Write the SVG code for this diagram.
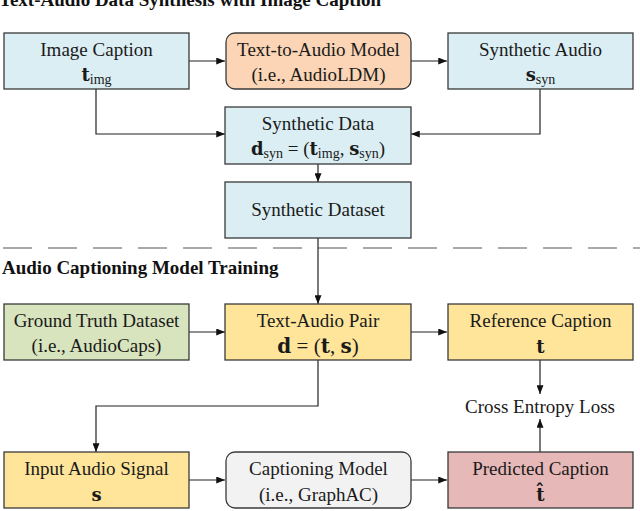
<svg xmlns="http://www.w3.org/2000/svg" width="640" height="511" viewBox="0 0 640 511">
<defs>
<style>
.box{stroke:#3a3a3a;stroke-width:1.3}
.blue{fill:#dbeef4}
.orange{fill:#fbd5b5}
.green{fill:#d7e4bd}
.yellow{fill:#fee59a}
.gray{fill:#f2f2f2}
.pink{fill:#e6b8b7}
.t{font-family:"Liberation Serif","Times New Roman",serif;font-size:19px;fill:#1a1a1a;text-anchor:middle}
.m{font-family:"DejaVu Serif","Liberation Serif",serif;font-weight:bold;font-size:18px}
.sub{font-family:"Liberation Serif",serif;font-size:14px;font-weight:normal}
.h{font-family:"Liberation Serif","Times New Roman",serif;font-size:19px;font-weight:bold;fill:#111}
.c{fill:none;stroke:#222;stroke-width:1.2}
</style>
<marker id="a" viewBox="0 0 10 8" refX="10" refY="4" markerWidth="9" markerHeight="7" markerUnits="userSpaceOnUse" orient="auto">
<path d="M0,0 L10,4 L0,8 z" fill="#111"/>
</marker>
</defs>
<rect width="640" height="511" fill="#ffffff"/>

<text class="h" x="-1" y="6">Text-Audio Data Synthesis with Image Caption</text>
<line x1="3" y1="248" x2="640" y2="248" stroke="#aaaaaa" stroke-width="2" stroke-dasharray="29 16"/>
<text class="h" x="2" y="274">Audio Captioning Model Training</text>

<g id="connectors">
<line class="c" x1="189" y1="61" x2="225" y2="61" marker-end="url(#a)"/>
<line class="c" x1="411" y1="61" x2="447" y2="61" marker-end="url(#a)"/>
<polyline class="c" points="96,89 96,134 225,134" marker-end="url(#a)"/>
<polyline class="c" points="540,89 540,134 411,134" marker-end="url(#a)"/>
<line class="c" x1="318" y1="164" x2="318" y2="182" marker-end="url(#a)"/>
<line class="c" x1="318" y1="238" x2="318" y2="304" marker-end="url(#a)"/>
<line class="c" x1="189" y1="332" x2="225" y2="332" marker-end="url(#a)"/>
<line class="c" x1="411" y1="332" x2="447" y2="332" marker-end="url(#a)"/>
<line class="c" x1="540" y1="360" x2="540" y2="394" marker-end="url(#a)"/>
<line class="c" x1="540" y1="452" x2="540" y2="419" marker-end="url(#a)"/>
<polyline class="c" points="318,360 318,406 96,406 96,452" marker-end="url(#a)"/>
<line class="c" x1="189" y1="480" x2="225" y2="480" marker-end="url(#a)"/>
<line class="c" x1="411" y1="480" x2="447" y2="480" marker-end="url(#a)"/>
</g>

<g id="image-caption">
<rect class="box blue" x="4" y="33" width="185" height="56"/>
<text class="t" x="96.5" y="56">Image Caption</text>
<text class="t" x="96.5" y="81"><tspan class="m">t</tspan><tspan class="sub" dy="3">img</tspan></text>
</g>
<g id="text-to-audio">
<rect class="box orange" x="226" y="33" width="185" height="56" rx="9"/>
<text class="t" x="318.5" y="56">Text-to-Audio Model</text>
<text class="t" x="318.5" y="81">(i.e., AudioLDM)</text>
</g>
<g id="synthetic-audio">
<rect class="box blue" x="448" y="33" width="185" height="56"/>
<text class="t" x="540.5" y="56">Synthetic Audio</text>
<text class="t" x="540.5" y="81"><tspan class="m">s</tspan><tspan class="sub" dy="3">syn</tspan></text>
</g>
<g id="synthetic-data">
<rect class="box blue" x="225" y="107" width="186" height="57"/>
<text class="t" x="318" y="130">Synthetic Data</text>
<text class="t" x="318" y="155"><tspan class="m">d</tspan><tspan class="sub" dy="3">syn</tspan><tspan dy="-3"> = (</tspan><tspan class="m">t</tspan><tspan class="sub" dy="3">img</tspan><tspan dy="-3">, </tspan><tspan class="m">s</tspan><tspan class="sub" dy="3">syn</tspan><tspan dy="-3">)</tspan></text>
</g>
<g id="synthetic-dataset">
<rect class="box blue" x="225" y="182" width="186" height="56"/>
<text class="t" x="318" y="216">Synthetic Dataset</text>
</g>

<g id="ground-truth">
<rect class="box green" x="4" y="304" width="185" height="56"/>
<text class="t" x="96.5" y="327">Ground Truth Dataset</text>
<text class="t" x="96.5" y="352">(i.e., AudioCaps)</text>
</g>
<g id="text-audio-pair">
<rect class="box yellow" x="225" y="304" width="186" height="56"/>
<text class="t" x="318" y="327">Text-Audio Pair</text>
<text class="t" x="318" y="353" style="font-size:21px"><tspan class="m" style="font-size:20px">d</tspan> = (<tspan class="m" style="font-size:20px">t</tspan>, <tspan class="m" style="font-size:20px">s</tspan>)</text>
</g>
<g id="reference-caption">
<rect class="box yellow" x="448" y="304" width="185" height="56"/>
<text class="t" x="540.5" y="327">Reference Caption</text>
<text class="t" x="540.5" y="353"><tspan class="m">t</tspan></text>
</g>
<g id="cross-entropy">
<text class="t" x="540" y="413">Cross Entropy Loss</text>
</g>

<g id="input-audio">
<rect class="box yellow" x="4" y="452" width="185" height="56"/>
<text class="t" x="96.5" y="475">Input Audio Signal</text>
<text class="t" x="96.5" y="501"><tspan class="m">s</tspan></text>
</g>
<g id="captioning-model">
<rect class="box gray" x="226" y="452" width="185" height="56" rx="9"/>
<text class="t" x="318.5" y="475">Captioning Model</text>
<text class="t" x="318.5" y="501">(i.e., GraphAC)</text>
</g>
<g id="predicted-caption">
<rect class="box pink" x="448" y="452" width="185" height="56"/>
<text class="t" x="540.5" y="475">Predicted Caption</text>
<text class="t" x="540.5" y="501"><tspan class="m">t&#770;</tspan></text>
</g>
</svg>
